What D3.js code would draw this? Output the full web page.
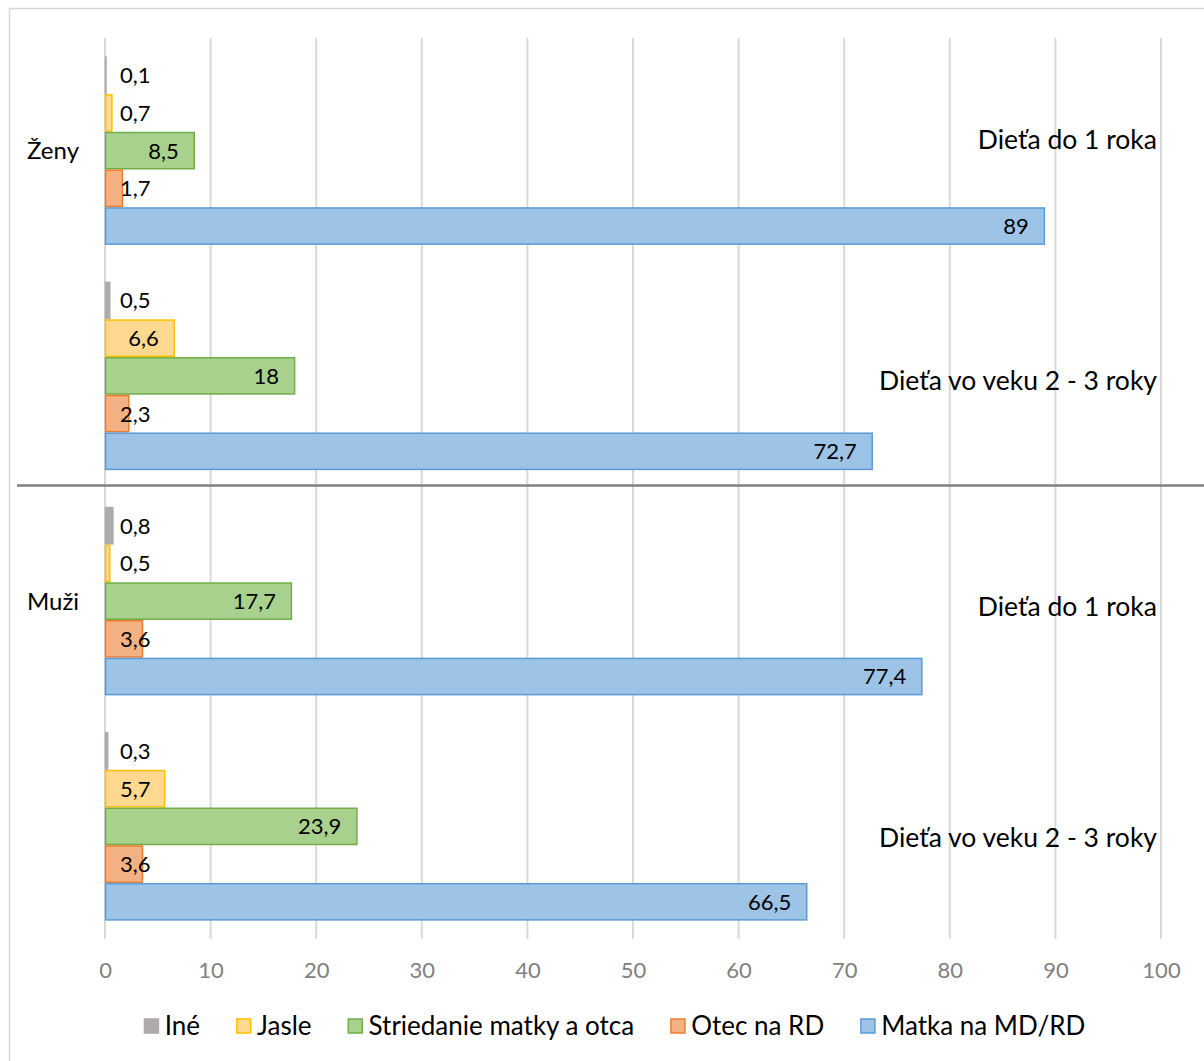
<!DOCTYPE html>
<html>
<head>
<meta charset="utf-8">
<script src="https://cdn.jsdelivr.net/npm/d3@7.9.0/dist/d3.min.js"></script>
<style>
  body { margin: 0; background: #fff; }
  svg { display: block; font-family: Lato, "Open Sans", sans-serif; }
</style>
</head>
<body>
<svg width="1204" height="1061"></svg>
<script>
// data
const genders = ['Ženy', 'Muži'];
const childAges = ['Dieťa do 1 roka', 'Dieťa vo veku 2 - 3 roky'];
const series = ['Iné', 'Jasle', 'Striedanie matky a otca', 'Otec na RD', 'Matka na MD/RD'];
const fills = ['#AFABAB', '#FFD98F', '#A9D18E', '#F4B183', '#9DC3E6'];
const strokes = ['#AFABAB', '#FFC000', '#70AD47', '#ED7D31', '#5B9BD5'];
const zenyDo1 = [0.1, 0.7, 8.5, 1.7, 89];
const zeny2to3 = [0.5, 6.6, 18, 2.3, 72.7];
const muziDo1 = [0.8, 0.5, 17.7, 3.6, 77.4];
const muzi2to3 = [0.3, 5.7, 23.9, 3.6, 66.5];
const xTicks = [0, 10, 20, 30, 40, 50, 60, 70, 80, 90, 100];

const groups = [
  { gender: 'Ženy', age: childAges[0], values: zenyDo1 },
  { gender: 'Ženy', age: childAges[1], values: zeny2to3 },
  { gender: 'Muži', age: childAges[0], values: muziDo1 },
  { gender: 'Muži', age: childAges[1], values: muzi2to3 },
];
// small vertical nudges of the age labels, as in the original
const ageLabelShift = [-11, 5, 5, 11.5];

const svg = d3.select('svg');
const fmt = v => String(v).replace('.', ',');

// chart border
svg.append('rect')
  .attr('x', 9.5).attr('y', 8.5)
  .attr('width', 1210).attr('height', 1070)
  .attr('fill', '#fff').attr('stroke', '#D9D9D9').attr('stroke-width', 1.5);

const plotTop = 38, plotBottom = 939;
const x = d3.scaleLinear().domain([0, 100]).range([105, 1161]);
const y0 = d3.scaleBand().domain(d3.range(groups.length)).range([plotTop, plotBottom])
  .paddingInner(0.163).paddingOuter(0.0815);
const y1 = d3.scaleBand().domain(series).range([0, y0.bandwidth()]).padding(0);

// gridlines
svg.append('g').selectAll('line').data(xTicks).join('line')
  .attr('x1', d => x(d)).attr('x2', d => x(d))
  .attr('y1', plotTop).attr('y2', plotBottom)
  .attr('stroke', '#D9D9D9').attr('stroke-width', 2);

// x axis labels
const xAxis = svg.append('g')
  .attr('transform', `translate(0,${plotBottom})`)
  .call(d3.axisBottom(x).tickValues(xTicks).tickSize(0).tickPadding(23));
xAxis.select('.domain').remove();
xAxis.selectAll('text')
  .attr('font-family', 'Lato, sans-serif')
  .attr('font-size', 22).attr('fill', '#808080');

// bars
const g = svg.append('g');
groups.forEach((grp, gi) => {
  const gy = y0(gi);
  series.forEach((s, si) => {
    const v = grp.values[si];
    g.append('rect')
      .attr('x', x(0) + 0.5)
      .attr('y', gy + y1(s) + 0.75)
      .attr('width', Math.max(x(v) - x(0) - 1, 0.5))
      .attr('height', y1.bandwidth() - 1.5)
      .attr('fill', fills[si])
      .attr('stroke', strokes[si])
      .attr('stroke-width', 1.5);
  });
});

// value labels
groups.forEach((grp, gi) => {
  const gy = y0(gi);
  series.forEach((s, si) => {
    const v = grp.values[si];
    const t = svg.append('text')
      .attr('y', gy + y1(s) + y1.bandwidth() / 2)
      .attr('dy', '0.36em')
      .attr('font-size', 22).attr('fill', '#000')
      .text(fmt(v));
    const w = t.node().getComputedTextLength();
    const endX = x(v) - 16;
    if (endX - w < 120) t.attr('x', 120);
    else t.attr('x', endX).attr('text-anchor', 'end');
  });
});

// second-level category labels (age)
groups.forEach((grp, gi) => {
  svg.append('text')
    .attr('x', 1157)
    .attr('y', y0(gi) + y0.bandwidth() / 2 + ageLabelShift[gi])
    .attr('dy', '0.36em')
    .attr('text-anchor', 'end')
    .attr('font-size', 26.5).attr('fill', '#000')
    .text(grp.age);
});

// gender labels
genders.forEach((gn) => {
  const idx = groups.findIndex(d => d.gender === gn);
  const cy = y0(idx) + y0.bandwidth() / 2;
  svg.append('text')
    .attr('x', 27).attr('y', cy)
    .attr('dy', '0.36em')
    .attr('font-size', 24).attr('fill', '#000')
    .text(gn);
});

// separator between genders
const sepY = (y0(1) + y0.bandwidth() + y0(2)) / 2 - 3;
svg.append('line')
  .attr('x1', 17).attr('x2', 1204)
  .attr('y1', sepY).attr('y2', sepY)
  .attr('stroke', '#808080').attr('stroke-width', 2.5);

// legend
const legend = svg.append('g');
let lx = 0;
series.forEach((s, i) => {
  const item = legend.append('g').attr('transform', `translate(${lx},0)`);
  item.append('rect')
    .attr('x', 0.75).attr('y', -7)
    .attr('width', 14).attr('height', 14)
    .attr('fill', fills[i]).attr('stroke', strokes[i]).attr('stroke-width', 1.5);
  const t = item.append('text')
    .attr('x', 21).attr('dy', '0.36em')
    .attr('font-size', 26).attr('fill', '#000')
    .text(s);
  lx += 21 + t.node().getComputedTextLength() + 36;
});
const legendW = lx - 36;
legend.attr('transform', `translate(${614.5 - legendW / 2},1026)`);
</script>
</body>
</html>
